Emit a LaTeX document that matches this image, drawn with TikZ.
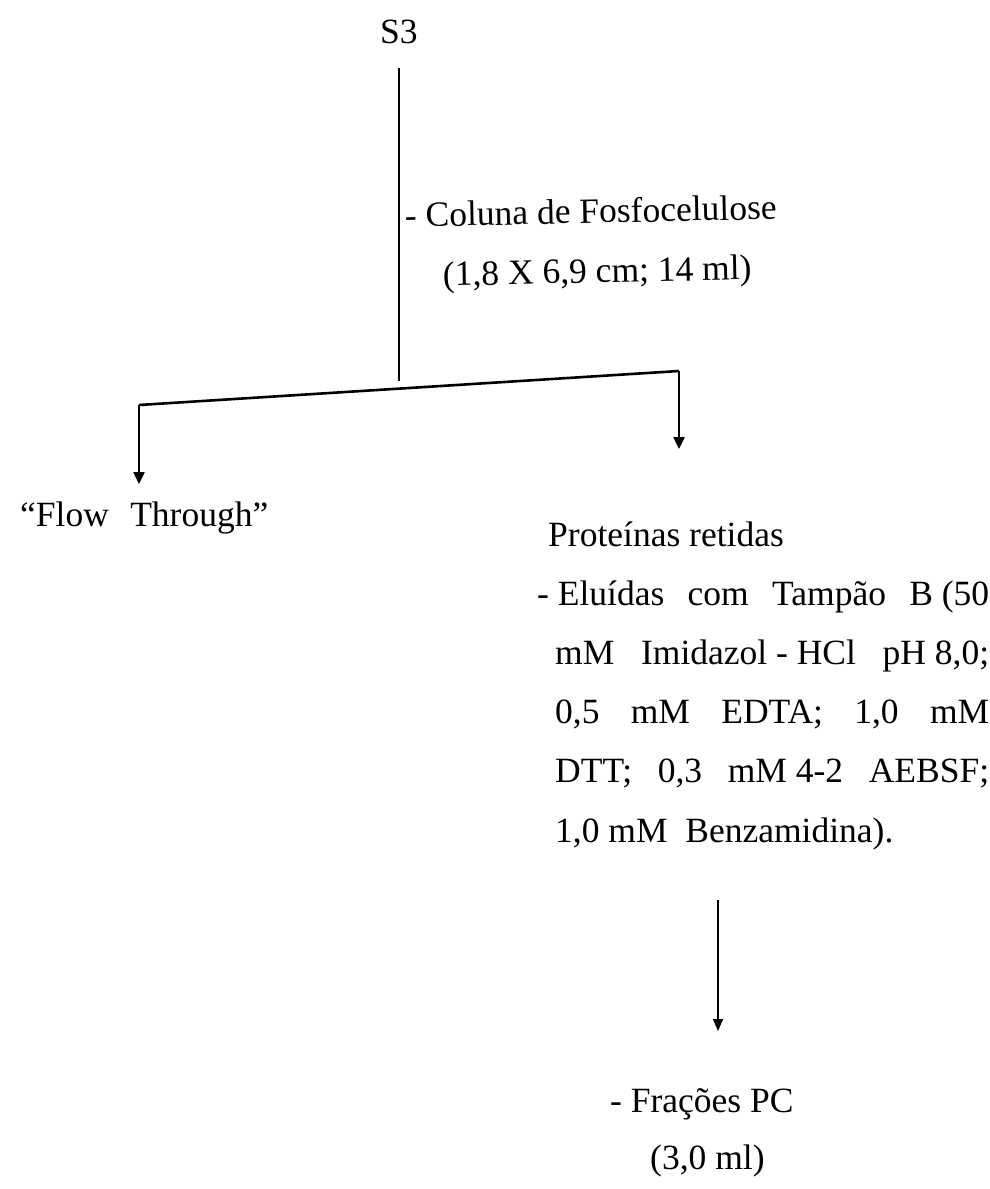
\documentclass[tikz,border=0pt]{standalone}
\usepackage{fontspec}
\setmainfont{Liberation Serif}
\usetikzlibrary{arrows.meta}
\newcommand{\fsp}{\hspace{.25em}}
\begin{document}
\begin{tikzpicture}[x=1pt,y=-1pt,
  txt/.style={anchor=base west,inner sep=0pt,font=\fontsize{35.5}{40}\selectfont},
  thick line/.style={line width=2.6pt},
  arrowline/.style={line width=2.4pt,-{Triangle[length=12pt,width=11pt]}},
  thin arrow/.style={line width=1.6pt,-{Triangle[length=12pt,width=10pt]}}]
\useasboundingbox (0,0) rectangle (990,1189);
% texts
\node[txt] (s3) at (380,43) {S3};
\node[txt,rotate=1.2] (coluna) at (405,227) {- Coluna de Fosfocelulose};
\node[txt,rotate=1.2] (dims) at (443,286) {(1,8 X 6,9 cm; 14 ml)};
\node[txt] (flow) at (20,526) {“Flow\hspace{0.6em}Through”};
\node[txt] (prot) at (548,546) {Proteínas retidas};
\node[txt] (l1) at (537,605) {\makebox[452pt][l]{-\fsp Eluídas\hfill com\hfill Tampão\hfill B\fsp(50}};
\node[txt] (l2) at (555,664) {\makebox[434pt][l]{mM\hfill Imidazol\fsp-\fsp HCl\hfill pH\fsp 8,0;}};
\node[txt] (l3) at (555,723) {\makebox[434pt][l]{0,5\hfill mM\hfill EDTA;\hfill 1,0\hfill mM}};
\node[txt] (l4) at (555,782) {\makebox[434pt][l]{DTT;\hfill 0,3\hfill mM\fsp 4-2\hfill AEBSF;}};
\node[txt] (l5) at (555,842) {1,0 mM \ Benzamidina).};
\node[txt] (frac) at (610,1112) {- Frações PC};
\node[txt] (vol) at (650,1169) {(3,0 ml)};
% connector points
\coordinate (top) at (399,68);
\coordinate (j) at (399,381);
\coordinate (bl) at (139,405);
\coordinate (br) at (679,371);
\coordinate (fl) at (139,484);
\coordinate (pr) at (679,449);
\coordinate (dtop) at (718,900);
\coordinate (dbot) at (718,1031);
% connectors
\draw[thick line] (top) -- (j);
\draw[thick line] (bl) -- (br);
\draw[arrowline] (bl) -- (fl);
\draw[arrowline] (br) -- (pr);
\draw[thin arrow] (dtop) -- (dbot);
\end{tikzpicture}
\end{document}
